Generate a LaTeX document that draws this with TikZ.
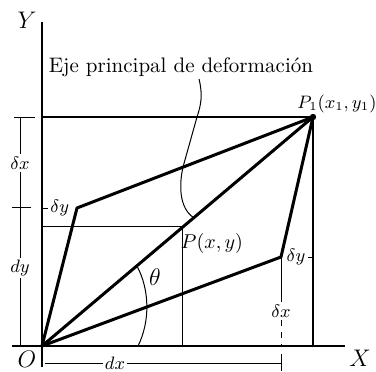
\documentclass[tikz,border=0pt]{standalone}
\usetikzlibrary{calc}
\begin{document}
\begin{tikzpicture}[
    x=0.5pt, y=-0.5pt,
    axis/.style={line width=1pt},
    edge/.style={line width=1.5pt, line join=round},
    thin/.style={line width=0.5pt},
    lab/.style={font=\small, inner sep=1pt},
    gap/.style={lab, fill=white}
  ]
  \useasboundingbox (0,0) rectangle (376,371);

  % Key points
  \coordinate (O) at (42,346);
  \coordinate (P1) at (313,117);
  \coordinate (A) at (77,208);
  \coordinate (B) at (281,257);
  \coordinate (P) at ($(O)!0.52!(P1)$);
  \coordinate (Q) at ($(O)!0.56!(P1)$);

  % Axes
  \draw[axis] (42,367) -- (42,22);
  \draw[axis] (12,346) -- (345,346);
  \node[font=\large] (ylab) at (27,20) {$Y$};
  \node[font=\large] (xlab) at (360,358) {$X$};
  \node[font=\large] (olab) at (27,359) {$O$};

  % Frame through P1
  \draw[line width=0.8pt] (O |- P1) -- (P1) -- (P1 |- O);
  \fill (P1) circle[radius=1.6pt];

  % Projections of P
  \draw[thin] (P -| O) -- (P) -- (P |- O);

  % Deformed element
  \draw[edge] (O) -- (A) -- (P1) -- (B) -- cycle;
  \draw[edge] (O) -- (P1);

  % Angle
  \draw[thin] ($(O)!0.35!(P1)$) .. controls (150,290) and (150,322) .. (138,346);
  \node[font=\large] (theta) at (155,277) {$\theta$};

  % Principal axis label
  \node[font=\fontsize{10.5}{12}\selectfont, inner sep=1pt] (eje) at (181,67)
    {Eje principal de deformación};
  \draw[thin] ([xshift=9pt]eje.south) .. controls (203,95) and (201,105) .. (197,117)
    -- (183,167) .. controls (179,185) and (179,208) .. (Q);

  % Point labels
  \node[font=\fontsize{9}{11}\selectfont, inner sep=0.5pt] (p1lab) at (337,104) {$P_1(x_1,y_1)$};
  \node[inner sep=1pt] (plab) at (212,243) {$P(x,y)$};

  % Left dimensions
  \node[gap] (dxl) at (20,163) {$\delta x$};
  \node[gap] (dyl) at (20,268) {$dy$};
  \draw[thin] (14,117) -- (35,117);
  \draw[thin] (12,207) -- (31,207);
  \draw[thin] (20,117) -- (dxl.north);
  \draw[thin] (dxl.south) -- (dyl.north);
  \draw[thin] (dyl.south) -- (20,346);
  \node[lab, anchor=west] (dya) at (48,208) {$\delta y$};
  \draw[thin] (O |- A) -- (dya.west);

  % Right dimensions
  \node[lab] (dyr) at (296,257) {$\delta y$};
  \draw[thin] (dyr.east) -- (B -| P1);
  \node[lab] (dxr) at ($(B)+(0,54)$) {$\delta x$};
  \draw[thin] (B) -- (dxr.north);
  \draw[thin, dashed] (dxr.south) -- (B |- O);

  % Bottom dimension
  \node[lab] (dxb) at (115,363) {$dx$};
  \draw[thin] (45,363) -- (dxb.west);
  \draw[thin] (dxb.east) -- (281,363);
  \draw[thin] (281,354) -- (281,371);

\end{tikzpicture}
\end{document}
